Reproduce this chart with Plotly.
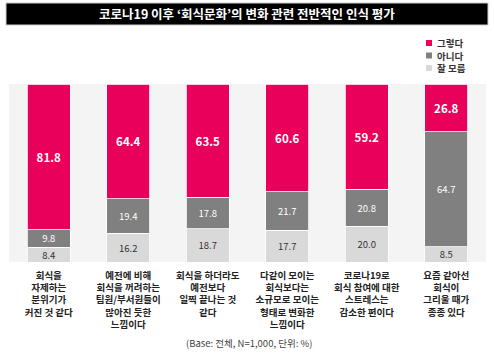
import plotly.graph_objects as go

W, H = 494, 355
ML, MR, MT, MB = 9, 8, 84, 93

categories = [
    "회식을\n자제하는\n분위기가\n커진 것 같다",
    "예전에 비해\n회식을 꺼려하는\n팀원/부서원들이\n많아진 듯한\n느낌이다",
    "회식을 하더라도\n예전보다\n일찍 끝나는 것\n같다",
    "다같이 모이는\n회식보다는\n소규모로 모이는\n형태로 변화한\n느낌이다",
    "코로나19로\n회식 참여에 대한\n스트레스는\n감소한 편이다",
    "요즘 같아선\n회식이\n그리울 때가\n종종 있다",
]
series_names = ["잘 모름", "아니다", "그렇다"]
dont_know = [8.4, 16.2, 18.7, 17.7, 20.0, 8.5]
no = [9.8, 19.4, 17.8, 21.7, 20.8, 64.7]
yes = [81.8, 64.4, 63.5, 60.6, 59.2, 26.8]

title_text = "코로나19 이후 ‘회식문화’의 변화 관련 전반적인 인식 평가"
footnote = "(Base: 전체, N=1,000, 단위: %)"

colors = {"그렇다": "#e8005a", "아니다": "#808080", "잘 모름": "#d9d9d9"}
text_colors = {"그렇다": "white", "아니다": "white", "잘 모름": "#333333"}
text_sizes = {"그렇다": 11.5, "아니다": 9.5, "잘 모름": 9.5}

FONT = "Noto Sans CJK KR"
cats = [c.replace("\n", "<br>") for c in categories]

fig = go.Figure()
for name, vals in zip(series_names, [dont_know, no, yes]):
    fig.add_trace(go.Bar(
        x=cats, y=vals, name=name,
        marker=dict(color=colors[name], line=dict(color="white", width=0.8)),
        text=[f"{v:.1f}" for v in vals],
        textposition="inside", insidetextanchor="middle", textangle=0,
        constraintext="none",
        textfont=dict(color=text_colors[name], size=text_sizes[name], family=FONT,
                      weight="bold" if name == "그렇다" else "normal"),
        showlegend=False,
    ))

def px_x(px):
    return (px - ML) / (W - ML - MR)

def px_y(py):
    return (H - MB - py) / (H - MT - MB)

shapes = [dict(type="rect", xref="paper", yref="paper", layer="below",
               x0=px_x(6), x1=px_x(488), y0=px_y(25), y1=px_y(3),
               fillcolor="black", line=dict(color="#cccccc", width=1))]
annotations = [dict(text=title_text, xref="paper", yref="paper",
                    x=px_x(247), y=px_y(14), xanchor="center", yanchor="middle",
                    showarrow=False,
                    font=dict(color="white", size=12.5, family=FONT, weight="bold"))]

legend_order = ["그렇다", "아니다", "잘 모름"]
for i, name in enumerate(legend_order):
    cy = 43 + i * 12.5
    shapes.append(dict(type="rect", xref="paper", yref="paper",
                       x0=px_x(426), x1=px_x(432), y0=px_y(cy + 3), y1=px_y(cy - 3),
                       fillcolor=colors[name], line=dict(width=0)))
    annotations.append(dict(text=name, xref="paper", yref="paper",
                            x=px_x(435), y=px_y(cy), xanchor="left", yanchor="middle",
                            showarrow=False,
                            font=dict(color="#333333", size=9.5, family=FONT, weight="bold")))

annotations.append(dict(text=footnote, xref="paper", yref="paper",
                        x=px_x(249), y=px_y(343), xanchor="center", yanchor="middle",
                        showarrow=False,
                        font=dict(color="#444444", size=9.5, family=FONT)))

fig.update_layout(
    width=W, height=H,
    margin=dict(l=ML, r=MR, t=MT, b=MB),
    barmode="stack", bargap=0.46,
    plot_bgcolor="#f4f4f4", paper_bgcolor="white",
    shapes=shapes, annotations=annotations,
    font=dict(family=FONT),
    xaxis=dict(showgrid=False, zeroline=False, showline=False, ticks="",
               automargin=False, ticklabelstandoff=6,
               tickfont=dict(size=9.5, color="#222222", family=FONT, weight="bold"),
               fixedrange=True),
    yaxis=dict(range=[0, 100], visible=False, fixedrange=True, automargin=False),
)

fig.write_html("out.html", config={"displayModeBar": False},
               post_script="document.body.style.margin='0';document.body.style.padding='0';")
